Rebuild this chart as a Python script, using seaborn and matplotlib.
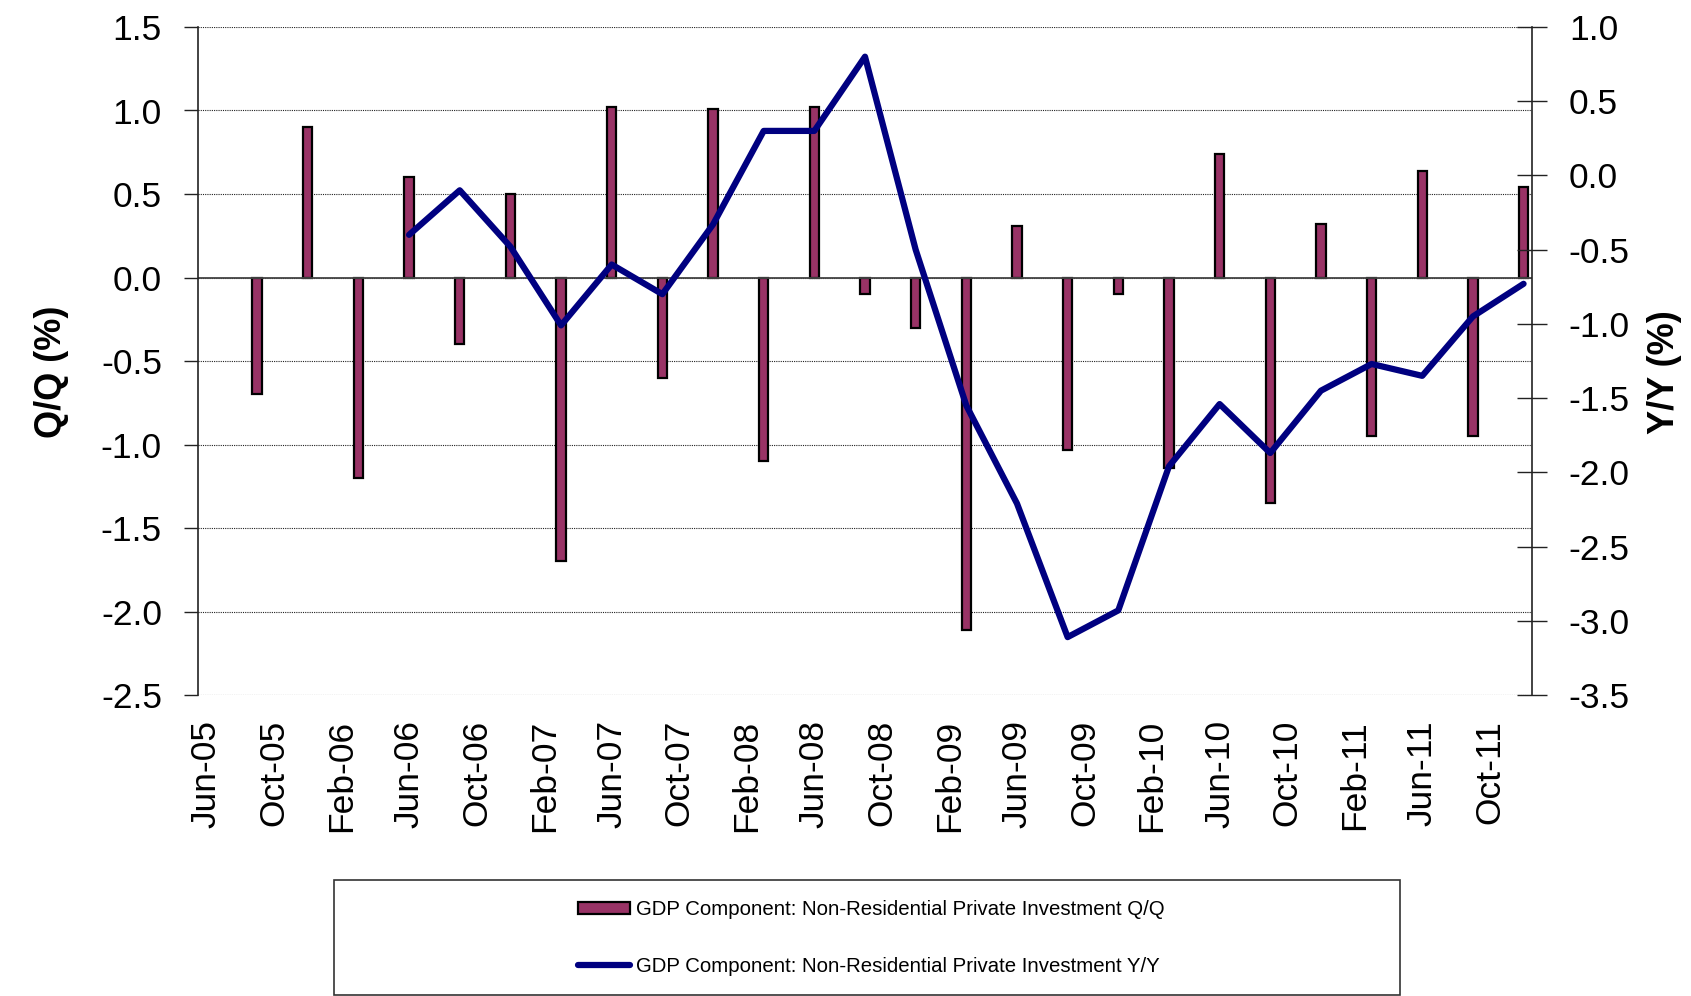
import numpy as np
import pandas as pd
import matplotlib
matplotlib.use('Agg')
import matplotlib.pyplot as plt
import matplotlib.ticker as mticker
from matplotlib.patches import Rectangle
import seaborn as sns


# ---------- data ----------
quarters = ['Sep-05', 'Dec-05', 'Mar-06', 'Jun-06', 'Sep-06', 'Dec-06',
            'Mar-07', 'Jun-07', 'Sep-07', 'Dec-07', 'Mar-08', 'Jun-08',
            'Sep-08', 'Dec-08', 'Mar-09', 'Jun-09', 'Sep-09', 'Dec-09',
            'Mar-10', 'Jun-10', 'Sep-10', 'Dec-10', 'Mar-11', 'Jun-11',
            'Sep-11', 'Dec-11']

# Q/Q (left axis)
qq = [-0.70, 0.90, -1.20, 0.60, -0.40, 0.50,
      -1.70, 1.02, -0.60, 1.01, -1.10, 1.02,
      -0.10, -0.30, -2.11, 0.31, -1.03, -0.10,
      -1.14, 0.74, -1.35, 0.32, -0.95, 0.64,
      -0.95, 0.54]

# Y/Y (right axis), starts Jun-06
yy_quarters = quarters[3:]
yy = [-0.40, -0.10, -0.48, -1.01, -0.60, -0.80,
      -0.33, 0.30, 0.30, 0.80, -0.50, -1.55,
      -2.21, -3.11, -2.93, -1.96, -1.54, -1.87,
      -1.45, -1.27, -1.35, -0.95, -0.73]

tick_labels = ['Jun-05', 'Oct-05', 'Feb-06', 'Jun-06', 'Oct-06', 'Feb-07',
               'Jun-07', 'Oct-07', 'Feb-08', 'Jun-08', 'Oct-08', 'Feb-09',
               'Jun-09', 'Oct-09', 'Feb-10', 'Jun-10', 'Oct-10', 'Feb-11',
               'Jun-11', 'Oct-11']
first_month = 'Jun-05'
last_month = 'Dec-11'

label_qq = 'GDP Component: Non-Residential Private Investment Q/Q'
label_yy = 'GDP Component: Non-Residential Private Investment Y/Y'


# month slot index counted from first_month
def month_idx(s):
    d = pd.to_datetime(s, format='%b-%y')
    d0 = pd.to_datetime(first_month, format='%b-%y')
    return (d.year - d0.year) * 12 + d.month - d0.month


df_q = pd.DataFrame({'m': [month_idx(q) for q in quarters], 'v': qq})
df_y = pd.DataFrame({'m': [month_idx(q) for q in yy_quarters], 'v': yy})

# ---------- style ----------
sns.set_style('white')
plt.rcParams['font.family'] = ['Liberation Sans', 'DejaVu Sans']
plt.rcParams['axes.unicode_minus'] = False
for k in ['text.color', 'axes.labelcolor', 'xtick.color', 'ytick.color']:
    plt.rcParams[k] = 'black'

fig = plt.figure(figsize=(16.91, 9.96), dpi=100)
ax = fig.add_axes([198 / 1691, 1 - 695 / 996, 1334 / 1691, 668 / 996])
ax2 = ax.twinx()

# bars
sns.barplot(data=df_q, x='m', y='v', native_scale=True, orient='x',
            width=0.185, color='#993366', saturation=1, errorbar=None,
            edgecolor='black', linewidth=1.6, label=label_qq, ax=ax)

# line
sns.lineplot(data=df_y, x='m', y='v', color='#000080', linewidth=4.5,
             solid_capstyle='round', solid_joinstyle='round',
             label=label_yy, ax=ax2)

for a in (ax, ax2):
    if a.get_legend() is not None:
        a.get_legend().remove()

# axes ranges
ax.set_xlim(-0.5, month_idx(last_month) + 0.5)
ax.set_ylim(-2.5, 1.5)
ax2.set_ylim(-3.5, 1.0)
ax.yaxis.set_major_locator(mticker.MultipleLocator(0.5))
ax2.yaxis.set_major_locator(mticker.MultipleLocator(0.5))
ax.yaxis.set_major_formatter(mticker.FormatStrFormatter('%.1f'))
ax2.yaxis.set_major_formatter(mticker.FormatStrFormatter('%.1f'))

ax.set_xticks([month_idx(t) for t in tick_labels])
ax.set_xticklabels(tick_labels, rotation=90)

# grid + zero line
ax.set_axisbelow(True)
ax.yaxis.grid(True, color='#222222', linestyle=(0, (1, 1)), linewidth=0.8)
ax.xaxis.grid(False)
ax.axhline(0, color='#444444', linewidth=1.3, zorder=1)

# spines
for s in ['top', 'bottom', 'right']:
    ax.spines[s].set_visible(False)
for s in ['top', 'bottom', 'left']:
    ax2.spines[s].set_visible(False)
ax.spines['left'].set_color('#222222')
ax.spines['left'].set_linewidth(1.2)
ax2.spines['right'].set_color('#222222')
ax2.spines['right'].set_linewidth(1.2)

ax.tick_params(axis='y', direction='out', length=10, width=1, pad=16,
               labelsize=25.5, left=True, color='#222222')
ax.tick_params(axis='x', length=0, pad=18, labelsize=25.5)
ax2.tick_params(axis='y', direction='inout', length=21, width=1, pad=16,
                labelsize=25.5, right=True, color='#222222')

ax.set_xlabel('')
ax.set_ylabel('Q/Q (%)', fontsize=26, fontweight='bold')
ax2.set_ylabel('Y/Y (%)', fontsize=26, fontweight='bold', rotation=90)
ax.yaxis.label.set_verticalalignment('center')
ax2.yaxis.label.set_verticalalignment('center')
ax.yaxis.set_label_coords(-0.110, 0.4835)
ax2.yaxis.set_label_coords(1.0997, 0.4835)

# legend box
h1, l1 = ax.get_legend_handles_labels()
h2, l2 = ax2.get_legend_handles_labels()
fig.add_artist(Rectangle((334 / 1691, 1 - 995 / 996), (1400 - 334) / 1691,
                         (995 - 880) / 996, transform=fig.transFigure,
                         fill=False, edgecolor='#333333', linewidth=1.2))
fig.legend(h1 + h2, l1 + l2, loc='center', bbox_to_anchor=(871.5 / 1691, 1 - 938 / 996),
           frameon=False, fontsize=14.7, handlelength=2.55, handleheight=0.55,
           handletextpad=0.3, labelspacing=1.85, borderpad=0)

fig.savefig('out.png', dpi=100)
